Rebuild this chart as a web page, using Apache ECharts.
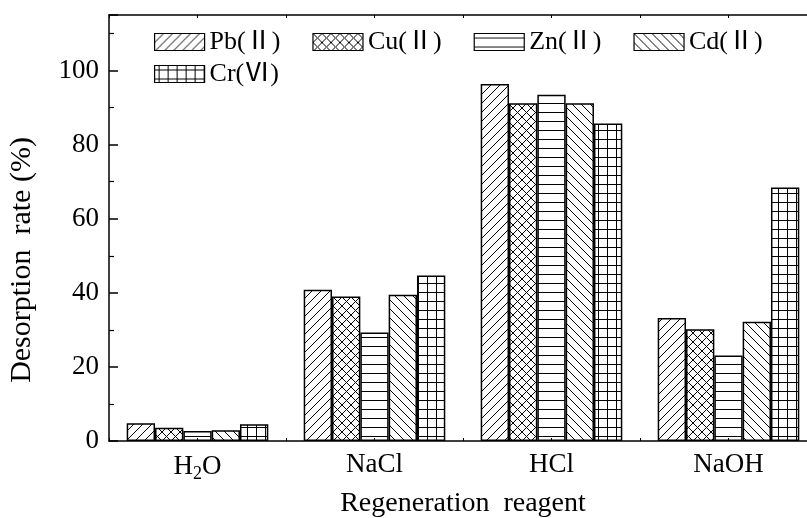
<!DOCTYPE html>
<html>
<head>
<meta charset="utf-8">
<script src="https://cdn.jsdelivr.net/npm/echarts@6/dist/echarts.min.js"></script>
<style>
  html, body { margin: 0; padding: 0; background: #fff; }
  #chart { width: 807px; height: 518px; }
</style>
</head>
<body>
<div id="chart"></div>
<script>
// Desorption rate of metal ions for each regeneration reagent
const reagents = ['H2O', 'NaCl', 'HCl', 'NaOH'];
const ionNames = ['Pb(Ⅱ)', 'Cu(Ⅱ)', 'Zn(Ⅱ)', 'Cd(Ⅱ)', 'Cr(Ⅵ)'];
const pbRate = [4.8, 40.8, 96.4, 33.2];
const cuRate = [3.6, 39.0, 91.2, 30.2];
const znRate = [2.7, 29.3, 93.5, 23.1];
const cdRate = [2.9, 39.5, 91.2, 32.2];
const crRate = [4.5, 44.7, 85.7, 68.4];
const yTicks = [0, 20, 40, 60, 80, 100];

const FONT = '"Liberation Serif", "DejaVu Serif", serif';
const LEGEND_FONT = '"Liberation Serif", "Noto Sans CJK SC", serif';

// Hatch fills drawn on small tiles and repeated across each bar
function tile(size, draw) {
  const c = document.createElement('canvas');
  c.width = size; c.height = size;
  const g = c.getContext('2d');
  g.strokeStyle = '#000';
  g.lineWidth = 1;
  draw(g, size);
  return { image: c, repeat: 'repeat' };
}
function slash(g, s) {
  g.beginPath();
  g.moveTo(-1, s + 1); g.lineTo(s + 1, -1);
  g.moveTo(-1, 1); g.lineTo(1, -1);
  g.moveTo(s - 1, s + 1); g.lineTo(s + 1, s - 1);
  g.stroke();
}
function backslash(g, s) {
  g.beginPath();
  g.moveTo(-1, -1); g.lineTo(s + 1, s + 1);
  g.moveTo(s - 1, -1); g.lineTo(s + 1, 1);
  g.moveTo(-1, s - 1); g.lineTo(1, s + 1);
  g.stroke();
}
const fills = [
  tile(9, slash),
  tile(9, (g, s) => { slash(g, s); backslash(g, s); }),
  tile(9, (g, s) => { g.beginPath(); g.moveTo(0, 4.5); g.lineTo(s, 4.5); g.stroke(); }),
  tile(9, backslash),
  tile(9, (g, s) => {
    g.beginPath();
    g.moveTo(0, 4.5); g.lineTo(s, 4.5);
    g.moveTo(4.5, 0); g.lineTo(4.5, s);
    g.stroke();
  })
];
const seriesValues = [pbRate, cuRate, znRate, cdRate, crRate];

const chart = echarts.init(document.getElementById('chart'), null, { renderer: 'canvas' });

const tickAxis = (pos, showLine) => ({
  type: 'value', position: pos, min: 0, max: 4, interval: 0.5,
  axisLine: { show: showLine, lineStyle: { color: '#000', width: 1.5 } },
  axisTick: { show: true, inside: true, length: 3, lineStyle: { color: '#000', width: 1 } },
  axisLabel: { show: false }, splitLine: { show: false }
});

const legendCommon = {
  icon: 'rect', itemWidth: 50, itemHeight: 17,
  textStyle: { fontFamily: LEGEND_FONT, fontSize: 26, color: '#000' },
  itemStyle: { borderColor: '#000', borderWidth: 1.2 }
};

chart.setOption({
  animation: false,
  backgroundColor: '#fff',
  textStyle: { fontFamily: FONT, color: '#000' },
  grid: { left: 109, top: 15, width: 708, height: 426, containLabel: false, outerBoundsMode: 'none' },
  legend: [
    Object.assign({ data: ionNames.slice(0, 4), left: 149, top: 24, itemGap: 32 }, legendCommon),
    Object.assign({ data: ionNames.slice(4), left: 149, top: 56 }, legendCommon)
  ],
  xAxis: [
    {
      type: 'category', data: reagents, position: 'bottom',
      axisLine: { show: true, lineStyle: { color: '#000', width: 1.5 } },
      axisTick: { show: false },
      axisLabel: {
        margin: 10, fontFamily: FONT, fontSize: 27, color: '#000',
        formatter: v => v === 'H2O' ? 'H{sub|2}O' : v,
        rich: { sub: { fontFamily: FONT, fontSize: 18, color: '#000', verticalAlign: 'bottom', padding: [14, 0, 0, 0] } }
      },
      name: 'Regeneration  reagent', nameLocation: 'middle', nameGap: 49,
      nameTextStyle: { fontFamily: FONT, fontSize: 28, color: '#000' }
    },
    tickAxis('bottom', false),
    tickAxis('top', true)
  ],
  yAxis: [
    {
      type: 'value', min: 0, max: 115, interval: 20,
      axisLine: { show: true, lineStyle: { color: '#000', width: 1.5 } },
      axisTick: { show: true, inside: true, length: 9, lineStyle: { color: '#000', width: 1.5 } },
      minorTick: { show: true, splitNumber: 2, length: 5, lineStyle: { color: '#000', width: 1.2 } },
      axisLabel: {
        margin: 10, fontFamily: FONT, fontSize: 27, color: '#000',
        formatter: v => yTicks.includes(v) ? String(v) : ''
      },
      splitLine: { show: false },
      name: 'Desorption  rate (%)', nameLocation: 'middle', nameGap: 72,
      nameTextStyle: { fontFamily: FONT, fontSize: 30, color: '#000', padding: [0, 64, 0, 0] }
    }
  ],
  series: ionNames.map((name, i) => ({
    name, type: 'bar', xAxisIndex: 0, yAxisIndex: 0,
    data: seriesValues[i],
    barCategoryGap: '20%', barGap: '0%',
    itemStyle: { color: fills[i], borderColor: '#000', borderWidth: 1.5 }
  }))
});
</script>
</body>
</html>
